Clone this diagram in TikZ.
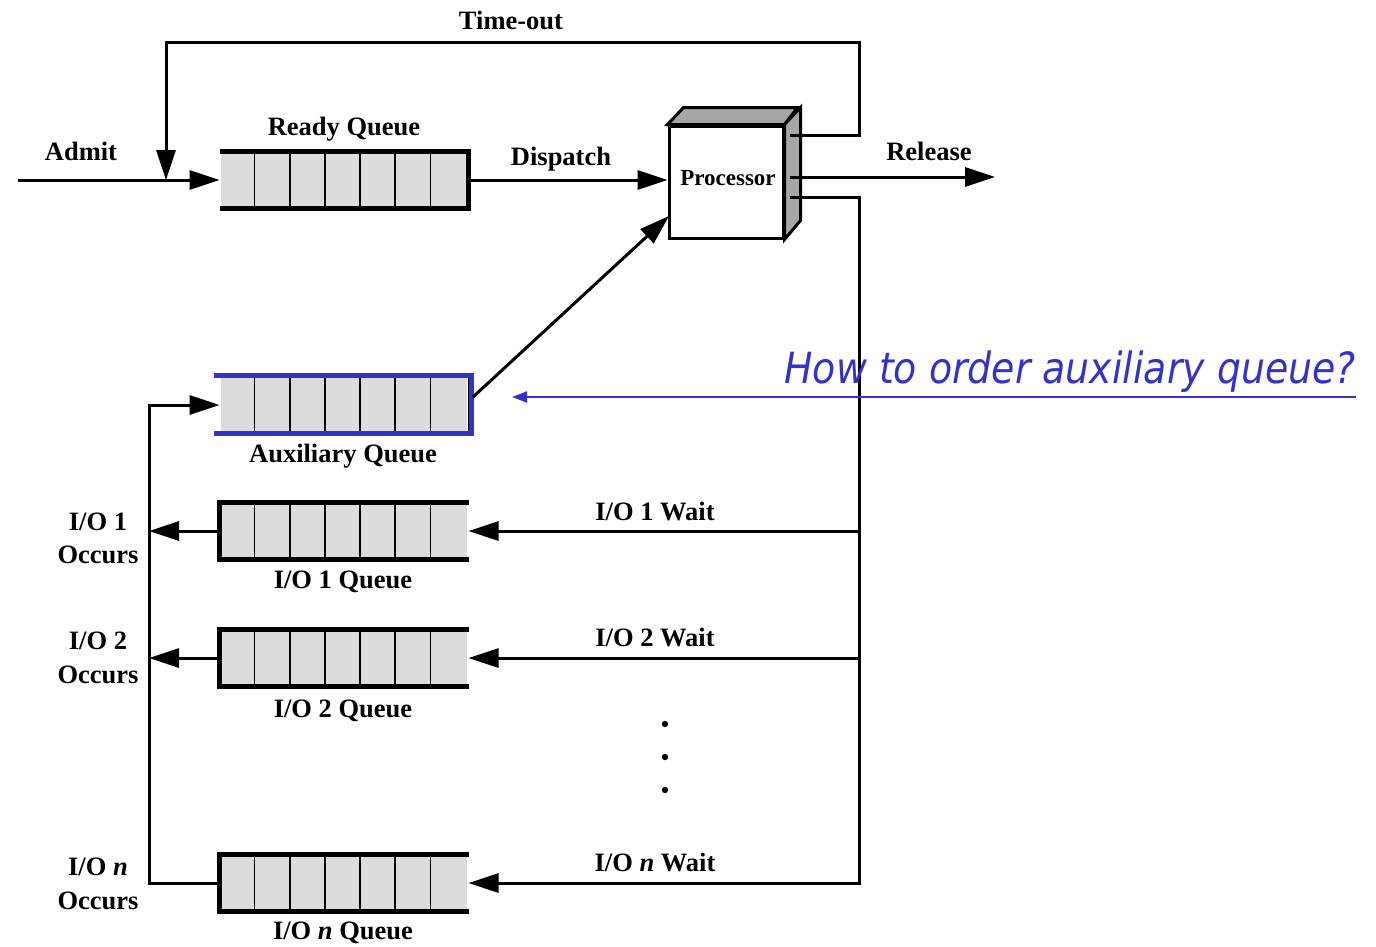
\documentclass[tikz,border=0pt]{standalone}
\usepackage{fontspec}
\setmainfont{Liberation Serif}
\newfontfamily\notefont[FakeStretch=0.88]{DejaVu Sans}
\usetikzlibrary{arrows.meta,calc}

\definecolor{qgray}{HTML}{DCDCDC}
\definecolor{sidegray}{HTML}{A6A6A6}
\definecolor{noteblue}{HTML}{3333CC}

% A queue: name, centre, closed end (e = east, w = west)
\newcommand\drawqueue[3]{%
  \node[qcell] (#1) at (#2) {};
  \foreach \k in {1,...,6}
    \draw[line width=1.6pt] ([xshift=\k*35.14pt]#1.north west) -- ([xshift=\k*35.14pt]#1.south west);
  \if e#3
    \draw[qedge] (#1.north west) -- (#1.north east) -- (#1.south east) -- (#1.south west);
  \else
    \draw[qedge] (#1.north east) -- (#1.north west) -- (#1.south west) -- (#1.south east);
  \fi
}

\begin{document}
\begin{tikzpicture}[x=1pt,y=-1pt,
  line width=3pt, line join=miter,
  lbl/.style={font=\fontsize{26.5}{28}\selectfont\bfseries, inner sep=0pt, anchor=base},
  qcell/.style={fill=qgray, draw=none, minimum width=246pt, minimum height=54pt, inner sep=0pt},
  qedge/.style={line width=4.5pt},
  flow/.style={-{Triangle[length=30pt,width=19pt]}},
]
\useasboundingbox (0,0) rectangle (1376,946);

% ---------- queues ----------
\drawqueue{ready}{344,180}{e}
\node[qcell] (aux) at (344,405) {};
\foreach \k in {1,...,6}
  \draw[line width=1.6pt] ([xshift=\k*35.14pt]aux.north west) -- ([xshift=\k*35.14pt]aux.south west);
\draw[line width=1.2pt] (aux.north east) -- (aux.south east);
\draw[noteblue, line width=5pt] ([xshift=-6pt,yshift=1.5pt]aux.north west) -- ([xshift=3pt,yshift=1.5pt]aux.north east)
  -- ([xshift=3pt]aux.south east) -- ([xshift=-6pt]aux.south west);
\drawqueue{io1}{344,531}{w}
\drawqueue{io2}{344,658}{w}
\drawqueue{ion}{344,883}{w}

% ---------- processor ----------
\node[draw, fill=white, minimum width=114pt, minimum height=112pt, inner sep=0pt] (proc) at (726,182) {};
\draw[fill=sidegray] (proc.north west) -- ++(16,-17) -- ++(114,0) -- (proc.north east) -- cycle;
\draw[fill=sidegray] (proc.north east) -- ++(16,-17) -- ++(0,113) -- (proc.south east) -- cycle;
\node[font=\fontsize{23}{25}\selectfont\bfseries, inner sep=0pt, anchor=base] at ($(proc.center)+(2,3)$) {Processor};

\coordinate (outtop) at (790,135);
\coordinate (outmid) at (790,177);
\coordinate (outbot) at (790,197);
\coordinate (relend) at (995,177);
\coordinate (loopr) at (859,42);
\coordinate (loopl) at (166,42);
\coordinate (admitin) at (166,180);
\coordinate (admitstart) at (18,180);
\coordinate (waitrail) at (859,197);
\coordinate (occrail) at (149,883);
\coordinate (auxout) at (473,397);
\coordinate (procin) at (669,216);

% ---------- connectors ----------
\draw[flow] (admitstart) -- (ready.west);
\draw[flow] (outtop) -- (loopr |- outtop) -- (loopr) -- (loopl) -- (admitin);
\draw[flow] (ready.east) -- (proc.west |- ready.east);
\draw[flow] (outmid) -- (relend);
\draw[flow] (auxout) -- (procin);

\draw[flow] (outbot) -- (waitrail) -- (waitrail |- ion.east) -- (ion.east);
\draw[flow] (waitrail |- io1.east) -- (io1.east);
\draw[flow] (waitrail |- io2.east) -- (io2.east);

\draw[flow] (ion.west) -- (occrail) -- (occrail |- aux.west) -- (aux.west);
\draw[flow] (io1.west) -- (occrail |- io1.west);
\draw[flow] (io2.west) -- (occrail |- io2.west);

\foreach \yy in {724,757,790} \fill (665,\yy) circle (3.2);

% ---------- labels ----------
\node[lbl] (tout) at (511,29) {Time-out};
\node[lbl] (admit) at (81,160) {Admit};
\node[lbl] (readyl) at (344,135) {Ready Queue};
\node[lbl] (disp) at (561,165) {Dispatch};
\node[lbl] (rel) at (929,160) {Release};
\node[lbl] (auxl) at (343,462) {Auxiliary Queue};
\node[lbl] (w1) at (655,520) {I/O 1 Wait};
\node[lbl] (q1) at (343,588) {I/O 1 Queue};
\node[lbl] (o1a) at (98,530) {I/O 1};
\node[lbl] (o1b) at (98,563) {Occurs};
\node[lbl] (w2) at (655,646) {I/O 2 Wait};
\node[lbl] (q2) at (343,717) {I/O 2 Queue};
\node[lbl] (o2a) at (98,649) {I/O 2};
\node[lbl] (o2b) at (98,683) {Occurs};
\node[lbl] (wn) at (655,871) {I/O \textit{n} Wait};
\node[lbl] (qn) at (343,939) {I/O \textit{n} Queue};
\node[lbl] (ona) at (98,875) {I/O \textit{n}};
\node[lbl] (onb) at (98,909) {Occurs};

% ---------- note ----------
\coordinate (notestart) at (1356,397);
\coordinate (noteend) at (512,397);
\draw[noteblue, line width=2pt, -{Triangle[length=15pt,width=11pt]}] (notestart) -- (noteend);
\node[noteblue, font=\notefont\itshape\fontsize{43}{45}\selectfont, inner sep=0pt, anchor=base west] (note) at (783,383) {How to order auxiliary queue?};
\end{tikzpicture}
\end{document}
